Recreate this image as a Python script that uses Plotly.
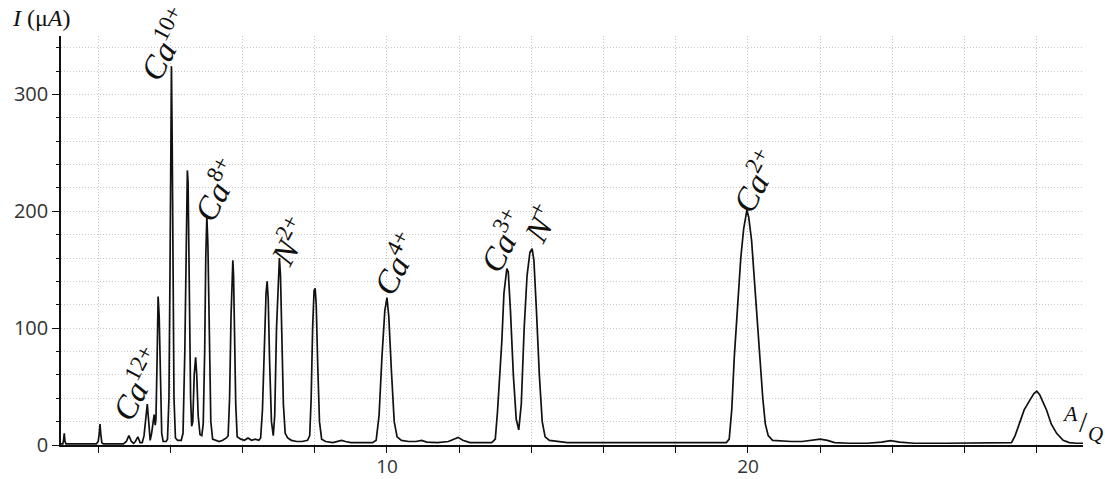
import plotly.graph_objects as go

# Spectrum (A/Q vs current in microamps)
aq = [0.97, 1.02, 1.04, 1.06, 1.08, 1.11,
      1.95, 2.00, 2.03, 2.05, 2.07, 2.10, 2.14,
      2.70, 2.78, 2.85, 2.92, 2.98, 3.03, 3.10, 3.16, 3.22,
      3.27, 3.32, 3.36, 3.40, 3.44, 3.48, 3.52, 3.55, 3.58, 3.60,
      3.63, 3.66, 3.69, 3.72, 3.76, 3.80, 3.88,
      3.92, 3.96, 3.99, 4.01, 4.03, 4.05, 4.07, 4.10, 4.14, 4.20, 4.30,
      4.35, 4.40, 4.44, 4.47, 4.49, 4.52, 4.56, 4.59, 4.62, 4.66, 4.70, 4.73, 4.77, 4.82, 4.87,
      4.91, 4.95, 4.98, 5.01, 5.04, 5.08, 5.12, 5.17, 5.25, 5.35, 5.45, 5.55, 5.60,
      5.64, 5.68, 5.71, 5.73, 5.75, 5.78, 5.81, 5.85, 5.95, 6.05, 6.15, 6.25, 6.35, 6.45, 6.50,
      6.55, 6.60, 6.65, 6.68, 6.71, 6.75, 6.80, 6.85, 6.89, 6.94, 6.99, 7.02, 7.05, 7.09, 7.13, 7.18,
      7.25, 7.35, 7.50, 7.65, 7.80, 7.86,
      7.90, 7.94, 7.98, 8.01, 8.04, 8.08, 8.13, 8.19, 8.30, 8.50, 8.65, 8.74, 8.85, 9.00, 9.30, 9.60, 9.70,
      9.78, 9.86, 9.94, 10.00, 10.05, 10.12, 10.20, 10.28, 10.40, 10.60, 10.80, 10.96, 11.10, 11.40,
      11.70, 11.85, 11.97, 12.10, 12.30, 12.60, 12.90, 13.00,
      13.06, 13.18, 13.24, 13.32, 13.36, 13.42, 13.50, 13.58, 13.65, 13.72, 13.80, 13.88, 13.96, 14.02,
      14.07, 14.14, 14.22, 14.30, 14.38, 14.50, 14.70, 15.00, 16.00, 17.00, 18.00, 19.00, 19.40,
      19.48, 19.55, 19.62, 19.71, 19.80, 19.88, 19.97, 20.02, 20.10, 20.18, 20.26, 20.34, 20.41, 20.48,
      20.56, 20.68, 20.90, 21.20, 21.50, 21.80, 22.00, 22.20, 22.40, 22.80, 23.30, 23.70, 23.95, 24.20,
      24.60, 25.50, 26.50, 27.20, 27.30,
      27.40, 27.53, 27.65, 27.80, 27.92, 28.00, 28.08, 28.18, 28.27, 28.40, 28.55, 28.73, 28.90, 29.10, 29.28]

current = [1, 1, 4, 10, 3, 1,
           1, 3, 10, 18, 10, 2, 1,
           1, 3, 8, 3, 1.5, 3, 7, 2, 2,
           8, 25, 35, 20, 4, 10, 22, 26, 17, 22,
           70, 127, 110, 50, 10, 3, 3,
           5, 40, 150, 260, 324, 260, 150, 40, 6, 4, 4,
           10, 80, 200, 235, 225, 140, 40, 16, 20, 60, 75, 60, 25, 9, 8,
           18, 80, 160, 196, 170, 90, 20, 5, 4, 3, 4, 6, 8,
           40, 110, 150, 158, 145, 100, 35, 7, 5, 4, 6, 4, 5, 4, 6,
           30, 90, 130, 140, 125, 70, 20, 8, 25, 100, 150, 160, 145, 90, 35, 10,
           6, 4, 3, 3, 4, 8,
           40, 100, 132, 134, 120, 70, 20, 5, 3, 2, 3, 4, 3, 2, 2, 2, 4,
           25, 75, 115, 126, 110, 65, 20, 7, 4, 3, 3, 4, 2.5, 2,
           3, 5, 6.5, 4, 2, 2, 2, 5,
           28, 88, 130, 151, 148, 115, 60, 22, 13, 35, 100, 145, 165, 168,
           158, 115, 60, 20, 7, 4, 3, 2, 2, 2, 2, 2, 2,
           5, 30, 75, 121, 160, 185, 201, 195, 175, 140, 105, 70, 40, 18,
           8, 4, 3.5, 3, 3, 4.5, 5, 4, 2, 1.5, 1.5, 2.5, 3.7, 2.5,
           1.5, 1.5, 1.5, 1.5, 2,
           8, 20, 30, 38, 44, 46, 43, 36, 30, 18, 10, 4, 2, 1.5, 1.5]

# Peak labels
label_text = ["<i>Ca</i><sup>12+</sup>", "<i>Ca</i><sup>10+</sup>", "<i>Ca</i><sup>8+</sup>",
              "<i>N</i><sup>2+</sup>", "<i>Ca</i><sup>4+</sup>", "<i>Ca</i><sup>3+</sup>",
              "<i>N</i><sup>+</sup>", "<i>Ca</i><sup>2+</sup>"]
label_x = [3.07, 3.85, 5.26, 7.26, 10.22, 13.16, 14.21, 20.17]
label_y = [53, 344, 219, 175, 156, 175, 190, 226]

x_ticks = [10, 20]
y_ticks = [0, 100, 200, 300]

fig = go.Figure()
fig.add_trace(go.Scatter(x=aq, y=current, mode="lines",
                         line=dict(color="#111111", width=1.7), hoverinfo="skip"))

serif = "Liberation Serif, DejaVu Serif, serif"
for t, lx, ly in zip(label_text, label_x, label_y):
    fig.add_annotation(x=lx, y=ly, xref="x", yref="y", text=t, showarrow=False,
                       textangle=-62, xanchor="center", yanchor="middle",
                       font=dict(family=serif, size=33, color="#111111"))

# Axis titles
fig.add_annotation(x=-0.05, y=1.044, xref="paper", yref="paper", xanchor="left", yanchor="middle",
                   text="<i>I</i> (μ<i>A</i>)", showarrow=False,
                   font=dict(family=serif, size=24, color="#111111"))
fig.add_annotation(x=0.987, y=0.078, xref="paper", yref="paper", xanchor="center", yanchor="middle",
                   text="<i>A</i>", showarrow=False, font=dict(family=serif, size=22, color="#111111"))
fig.add_annotation(x=1.0, y=0.058, xref="paper", yref="paper", xanchor="center", yanchor="middle",
                   text="/", showarrow=False, font=dict(family=serif, size=30, color="#111111"))
fig.add_annotation(x=1.0127, y=0.027, xref="paper", yref="paper", xanchor="center", yanchor="middle",
                   text="<i>Q</i>", showarrow=False, font=dict(family=serif, size=21, color="#111111"))

gcol = "#c8c8c8"
gdash = "1px,2px"

fig.update_layout(
    width=1105, height=479,
    margin=dict(l=61, r=22, t=36, b=34, autoexpand=False),
    paper_bgcolor="white", plot_bgcolor="white",
    showlegend=False,
    font=dict(family="Open Sans, Noto Sans, sans-serif", size=20, color="#333333"),
    xaxis=dict(range=[0.97, 29.28], tickmode="array", tickvals=x_ticks, automargin=False,
               ticks="outside", ticklen=6, tickwidth=1.3, tickcolor="#111111",
               ticklabelstandoff=-3,
               showline=True, linecolor="#111111", linewidth=1.6, zeroline=False,
               showgrid=True, gridcolor=gcol, gridwidth=1, griddash=gdash,
               minor=dict(dtick=2, tick0=0, ticks="outside", ticklen=6, tickwidth=1.3,
                          tickcolor="#111111", showgrid=True, gridcolor=gcol, griddash=gdash),
               tickfont=dict(size=19)),
    yaxis=dict(range=[0, 350], tickmode="array", tickvals=y_ticks, automargin=False,
               ticks="outside", ticklen=7, tickwidth=1.3, tickcolor="#111111",
               showline=True, linecolor="#111111", linewidth=1.6, zeroline=False,
               showgrid=True, gridcolor=gcol, gridwidth=1, griddash=gdash,
               minor=dict(dtick=20, tick0=0, ticks="outside", ticklen=3, tickwidth=1,
                          tickcolor="#111111", showgrid=True, gridcolor=gcol, griddash=gdash),
               tickfont=dict(size=20)),
)

fig.write_html("out.html", config={"displayModeBar": False},
               post_script="document.body.style.margin='0';document.body.style.overflow='hidden';")
